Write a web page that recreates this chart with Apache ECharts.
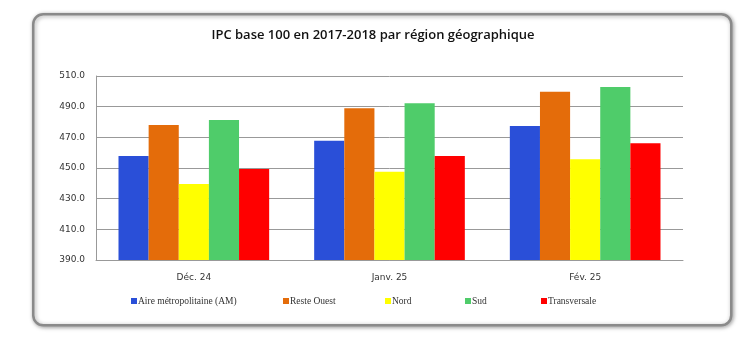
<!DOCTYPE html>
<html><head><meta charset="utf-8">
<script src="https://cdn.jsdelivr.net/npm/echarts@6/dist/echarts.min.js"></script>
<style>html,body{margin:0;padding:0;background:#fff}#c{width:746px;height:346px}</style>
</head><body><div id="c"></div>
<script>
const categories = ['Déc. 24', 'Janv. 25', 'Fév. 25'];
const seriesNames = ['Aire métropolitaine (AM)', 'Reste Ouest', 'Nord', 'Sud', 'Transversale'];
const aireMetro = [457.8, 467.8, 477.4];
const resteOuest = [478.0, 488.9, 499.8];
const nord = [439.6, 447.6, 455.7];
const sud = [481.3, 492.2, 502.8];
const transversale = [449.4, 457.8, 466.1];
const yTicks = [390, 410, 430, 450, 470, 490, 510];
const colors = ['#2a4fd8', '#e46c0a', '#ffff00', '#4fcc6a', '#ff0000'];
const values = [aireMetro, resteOuest, nord, sud, transversale];
const legendLeft = [131, 283, 385, 465, 541];

const chart = echarts.init(document.getElementById('c'));
chart.setOption({
  animation: false,
  graphic: [{
    type: 'rect', left: 32, top: 13, shape: {width: 698, height: 311, r: 10},
    style: {fill: '#fff', stroke: '#8a8a8a', lineWidth: 2.5, shadowBlur: 4, shadowColor: 'rgba(0,0,0,0.35)', shadowOffsetX: 1, shadowOffsetY: 1},
    z: -10
  }],
  title: {
    text: 'IPC base 100 en 2017-2018 par région géographique',
    left: 'center', top: 24,
    textStyle: {fontFamily: 'Open Sans', fontSize: 13, fontWeight: 600, color: '#111'}
  },
  legend: seriesNames.map((n, i) => ({
    data: [n], left: legendLeft[i], top: 296,
    itemWidth: 6, itemHeight: 6, icon: 'rect', padding: 0,
    textStyle: {fontFamily: 'Liberation Serif', fontSize: 9.5, color: '#333', padding: [0,0,0,-4]}
  })),
  grid: {left: 96, right: 63, top: 76, bottom: 86, containLabel: false},
  xAxis: {
    type: 'category', data: categories,
    axisLine: {lineStyle: {color: '#999'}},
    axisTick: {show: false},
    axisLabel: {fontFamily: 'DejaVu Sans', fontSize: 9, color: '#333', margin: 13},
    splitLine: {show: false}
  },
  yAxis: {
    type: 'value', min: yTicks[0], max: yTicks[yTicks.length-1], interval: 20,
    axisLine: {show: true, lineStyle: {color: '#999'}},
    axisTick: {show: false},
    axisLabel: {fontFamily: 'DejaVu Sans', fontSize: 9, color: '#333', margin: 11, formatter: v => v.toFixed(1)},
    splitLine: {lineStyle: {color: '#999', width: 1}}
  },
  series: seriesNames.map((n, i) => ({
    name: n, type: 'bar', data: values[i],
    itemStyle: {color: colors[i]},
    barGap: '0%', barCategoryGap: '23%'
  }))
});
</script></body></html>
